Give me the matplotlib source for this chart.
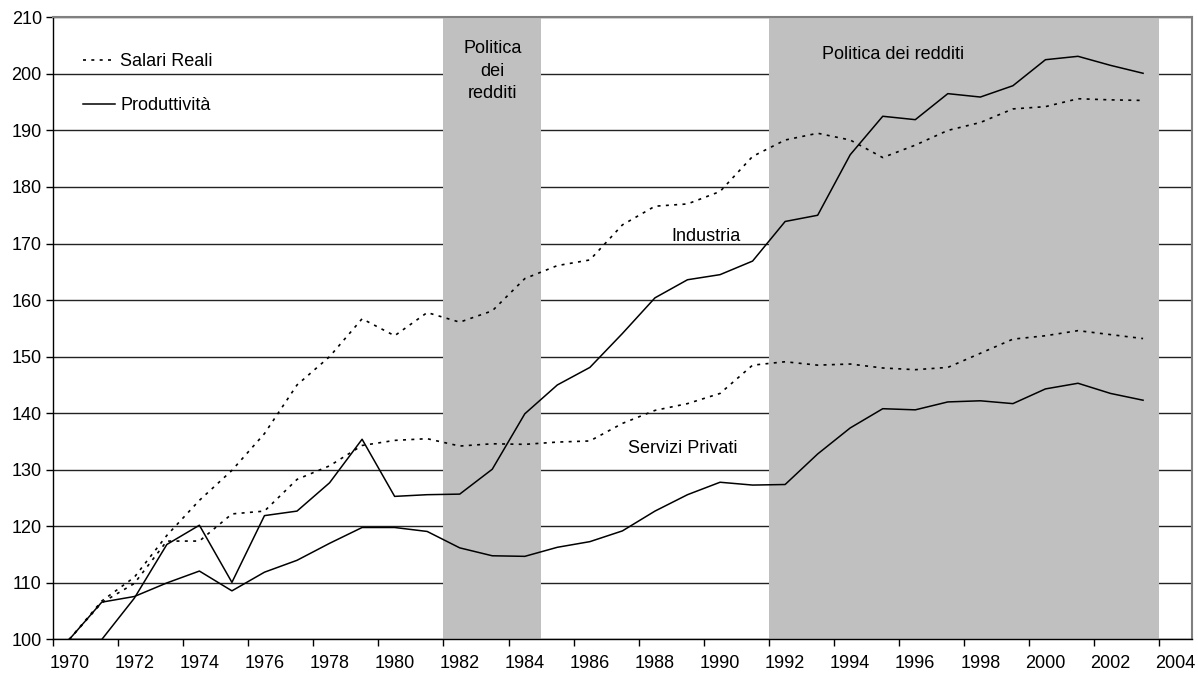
import matplotlib
matplotlib.use("Agg")
import matplotlib.pyplot as plt
from matplotlib.lines import Line2D
import numpy as np

plt.rcParams['font.family'] = ['Liberation Sans', 'DejaVu Sans']

years = list(range(1970, 2004))

# Salari reali - industria (dotted, upper)
sal_ind = [100, 106.8, 111.0, 118.4, 124.6, 129.9, 136.4, 145.0, 150.0, 156.7,
           153.7, 157.8, 156.1, 158.1, 163.8, 166.1, 167.1, 173.3, 176.6, 177.0,
           179.2, 185.4, 188.3, 189.5, 188.3, 185.2, 187.4, 190.0, 191.4, 193.8,
           194.2, 195.6, 195.4, 195.3]
# Produttivita - industria (solid, upper)
prod_ind = [100, 100, 107.3, 116.8, 120.2, 110.1, 121.9, 122.7, 127.7, 135.4,
            125.3, 125.6, 125.7, 130.1, 139.9, 145.0, 148.1, 154.1, 160.4, 163.6,
            164.5, 166.9, 173.9, 175.0, 185.7, 192.5, 191.9, 196.5, 195.9, 197.9,
            202.5, 203.1, 201.5, 200.1]
# Salari reali - servizi privati (dotted, lower)
sal_serv = [100, 106.5, 109.9, 117.4, 117.4, 122.2, 122.7, 128.3, 130.7, 134.3,
            135.2, 135.5, 134.2, 134.6, 134.5, 134.9, 135.1, 138.2, 140.5, 141.7,
            143.5, 148.5, 149.1, 148.5, 148.7, 148.0, 147.7, 148.1, 150.6, 153.1,
            153.7, 154.6, 153.9, 153.2]
# Produttivita - servizi privati (solid, lower)
prod_serv = [100, 106.6, 107.6, 110.0, 112.1, 108.6, 111.9, 114.0, 117.0, 119.8,
             119.8, 119.1, 116.2, 114.8, 114.7, 116.3, 117.3, 119.2, 122.7, 125.6,
             127.8, 127.3, 127.4, 132.8, 137.4, 140.8, 140.6, 142.0, 142.2, 141.7,
             144.3, 145.3, 143.5, 142.3]

# periods of "politica dei redditi" (first and last year covered)
policy_periods = [(1982, 1984), (1992, 2003)]
tick_labels = list(range(1970, 2005, 2))

fs = 13

fig = plt.figure(figsize=(11.98, 6.75), dpi=100)
ax = fig.add_axes([0.0442, 0.0526, 0.9507, 0.9218])

# shaded bands
for start, end in policy_periods:
    ax.axvspan(start - 0.5, end + 0.5, color='#c0c0c0', lw=0, zorder=1)

dot = (0, (1.8, 3.2))
ax.plot(years, sal_ind, color='black', lw=1.2, linestyle=dot, zorder=3)
ax.plot(years, sal_serv, color='black', lw=1.2, linestyle=dot, zorder=3)
ax.plot(years, prod_ind, color='black', lw=1.1, zorder=3)
ax.plot(years, prod_serv, color='black', lw=1.1, zorder=3)

ax.set_xlim(1969.5, 2004.5)
ax.set_ylim(100, 210)
ax.set_yticks(np.arange(100, 211, 10))
ax.yaxis.grid(True, color='#222222', lw=1.0)
ax.set_axisbelow(True)

# tick marks between categories, labels on the categories
ax.set_xticks(np.arange(1969.5, 2004, 2))
ax.set_xticklabels([])
ax.set_xticks(tick_labels, minor=True)
ax.set_xticklabels([str(y) for y in tick_labels], minor=True)
ax.tick_params(axis='x', which='major', length=5, width=1, direction='out')
ax.tick_params(axis='x', which='minor', length=0, pad=11.5, labelsize=fs)
ax.tick_params(axis='y', length=5, width=1, direction='out', pad=3, labelsize=fs)

for s in ['top', 'right']:
    ax.spines[s].set_color('#808080')
    ax.spines[s].set_linewidth(1.5)
for s in ['left', 'bottom']:
    ax.spines[s].set_color('black')
    ax.spines[s].set_linewidth(1.0)

handles = [Line2D([], [], color='black', lw=1.2, linestyle=dot),
           Line2D([], [], color='black', lw=1.1)]
ax.legend(handles, ['Salari Reali', 'Produttività'], loc='upper left',
          bbox_to_anchor=(0.026, 0.942), frameon=False, fontsize=fs,
          handlelength=1.8, handletextpad=0.3, labelspacing=1.5,
          borderpad=0, borderaxespad=0)

ax.text(1983.0, 200.5, 'Politica\ndei\nredditi', ha='center', va='center',
        fontsize=fs, linespacing=1.45, zorder=4)
ax.text(1995.33, 203.5, 'Politica dei redditi', ha='center', va='center',
        fontsize=fs, zorder=4)
ax.text(1989.57, 171.3, 'Industria', ha='center', va='center', fontsize=fs, zorder=4)
ax.text(1988.86, 133.8, 'Servizi Privati', ha='center', va='center', fontsize=fs, zorder=4)

fig.savefig('out.png', dpi=100)
